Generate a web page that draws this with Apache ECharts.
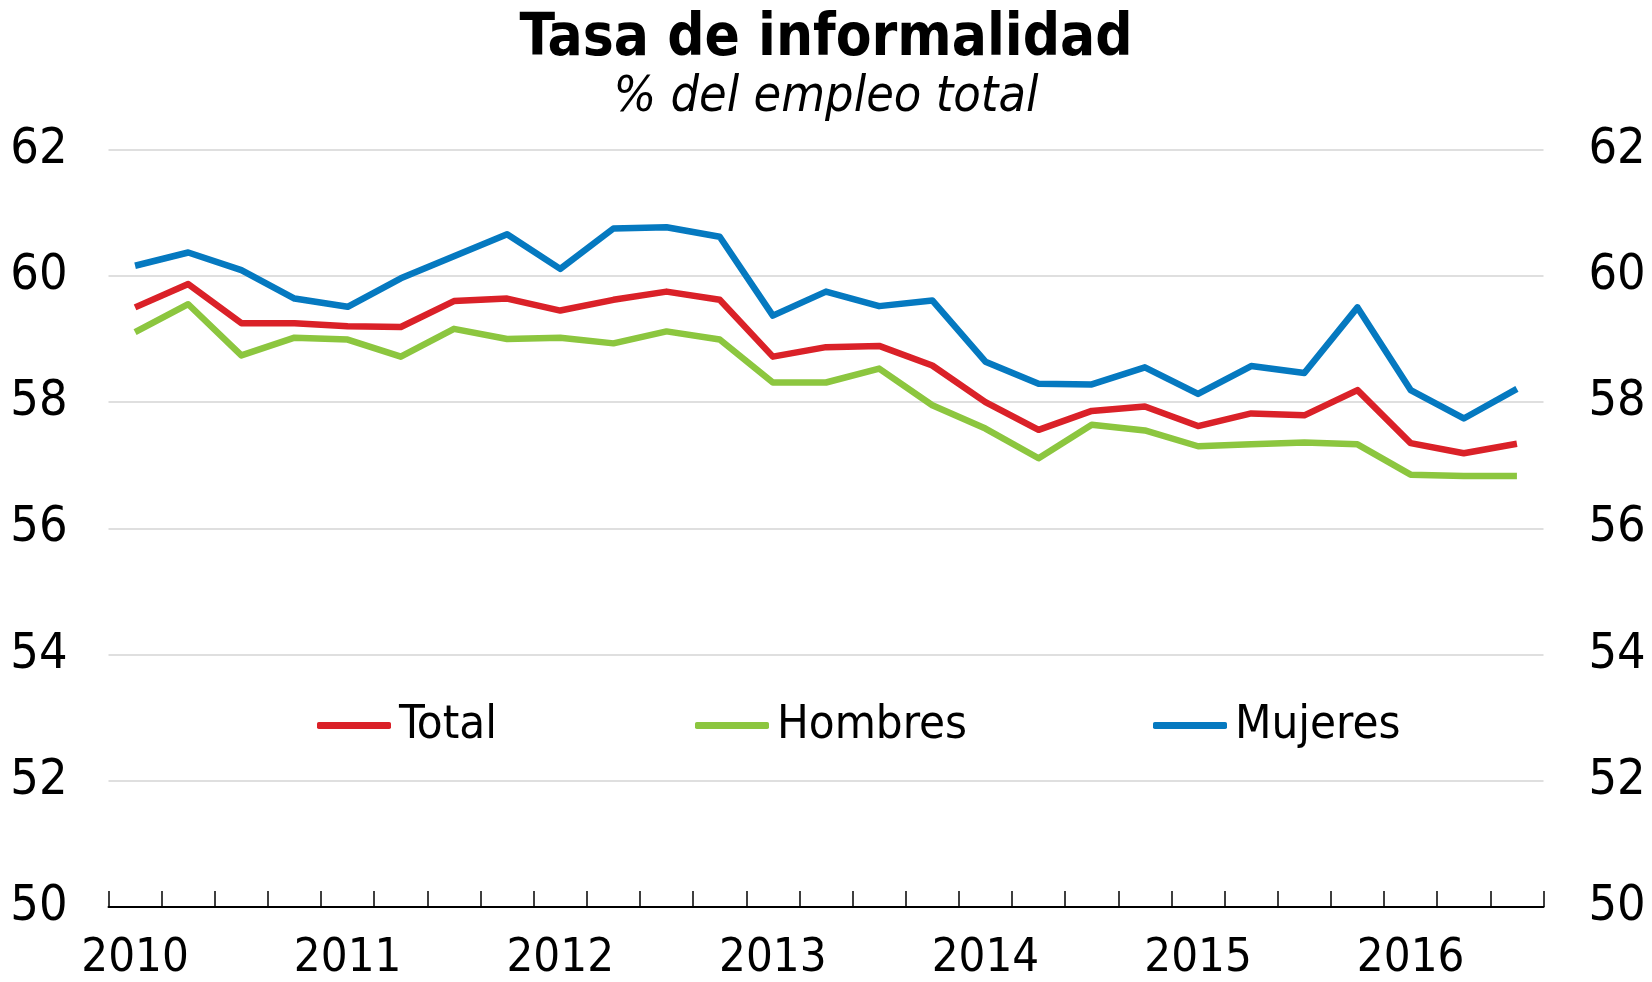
<!DOCTYPE html>
<html>
<head>
<meta charset="utf-8">
<title>Tasa de informalidad</title>
<script src="https://cdn.jsdelivr.net/npm/echarts@6/dist/echarts.min.js"></script>
<style>
  html, body { margin: 0; padding: 0; background: #fff; }
  #chart { width: 1652px; height: 982px; }
</style>
</head>
<body>
<div id="chart"></div>
<script>
  // trimestres 2010T1 .. 2016T3
  const quarters = [
    '2010T1', '2010T2', '2010T3', '2010T4',
    '2011T1', '2011T2', '2011T3', '2011T4',
    '2012T1', '2012T2', '2012T3', '2012T4',
    '2013T1', '2013T2', '2013T3', '2013T4',
    '2014T1', '2014T2', '2014T3', '2014T4',
    '2015T1', '2015T2', '2015T3', '2015T4',
    '2016T1', '2016T2', '2016T3'
  ];

  const total = [59.50, 59.87, 59.25, 59.25, 59.20, 59.19, 59.60, 59.64, 59.45, 59.62, 59.75, 59.62, 58.72, 58.87,
    58.89, 58.58, 58.00, 57.56, 57.86, 57.93, 57.62, 57.82, 57.79, 58.19, 57.35, 57.19, 57.34];
  const hombres = [59.11, 59.55, 58.74, 59.02, 58.99, 58.72, 59.16, 59.00, 59.02, 58.93, 59.12, 58.99, 58.31, 58.31,
    58.53, 57.95, 57.58, 57.11, 57.64, 57.55, 57.30, 57.33, 57.36, 57.33, 56.85, 56.83, 56.83];
  const mujeres = [60.16, 60.37, 60.09, 59.64, 59.51, 59.96, 60.31, 60.66, 60.11, 60.75, 60.77, 60.62, 59.37, 59.75,
    59.52, 59.61, 58.64, 58.29, 58.28, 58.55, 58.13, 58.57, 58.46, 59.50, 58.19, 57.74, 58.21];

  const yTicks = [50, 52, 54, 56, 58, 60, 62];

  const FONT = "'DejaVu Sans Condensed', 'Liberation Sans', sans-serif";

  const chart = echarts.init(document.getElementById('chart'), null, { renderer: 'canvas' });

  const yAxisBase = {
    type: 'value',
    min: yTicks[0],
    max: yTicks[yTicks.length - 1],
    interval: 2,
    axisLine: { show: false },
    axisTick: { show: false },
    axisLabel: { color: '#000', fontSize: 50, fontFamily: FONT }
  };

  // one legend block per item so each sits where the original has it
  const legendBase = {
    top: 697,
    icon: 'roundRect',
    itemWidth: 74,
    itemHeight: 7,
    textStyle: { color: '#000', fontSize: 47, fontFamily: FONT, padding: [0, 0, 0, 3] }
  };

  const option = {
    backgroundColor: '#fff',
    animation: false,
    color: ['#DA2128', '#8CC63F', '#0579C0'],
    title: {
      text: 'Tasa de informalidad',
      subtext: '% del empleo total',
      left: 'center',
      top: 6,
      itemGap: 4,
      textStyle: { color: '#000', fontSize: 58, fontWeight: 'bold', fontFamily: FONT },
      subtextStyle: { color: '#000', fontSize: 50, fontStyle: 'italic', fontFamily: FONT }
    },
    legend: [
      Object.assign({}, legendBase, { data: ['Total'], left: 312 }),
      Object.assign({}, legendBase, { data: ['Hombres'], left: 690 }),
      Object.assign({}, legendBase, { data: ['Mujeres'], left: 1148 })
    ],
    grid: {
      left: 108.5,
      right: 108.5,
      top: 149.6,
      bottom: 72.7,
      containLabel: false
    },
    xAxis: {
      type: 'category',
      data: quarters,
      boundaryGap: true,
      axisLine: { show: true, lineStyle: { color: '#000', width: 2 } },
      axisTick: { show: true, inside: true, length: 16, interval: 0, lineStyle: { color: '#000', width: 1.5 } },
      axisLabel: {
        interval: 3,
        color: '#000',
        fontSize: 47,
        fontFamily: FONT,
        margin: 28,
        formatter: v => v.slice(0, 4)
      },
      splitLine: { show: false }
    },
    yAxis: [
      Object.assign({}, yAxisBase, {
        position: 'left',
        axisLabel: Object.assign({}, yAxisBase.axisLabel, { margin: 41 }),
        splitLine: { show: true, lineStyle: { color: '#d4d4d4', width: 1.5 } }
      }),
      Object.assign({}, yAxisBase, {
        position: 'right',
        axisLabel: Object.assign({}, yAxisBase.axisLabel, { margin: 45 }),
        splitLine: { show: false }
      })
    ],
    series: [
      { name: 'Total', type: 'line', data: total, showSymbol: false, lineStyle: { width: 6.5, join: 'round' } },
      { name: 'Hombres', type: 'line', data: hombres, showSymbol: false, lineStyle: { width: 6.5, join: 'round' } },
      { name: 'Mujeres', type: 'line', data: mujeres, showSymbol: false, lineStyle: { width: 6.5, join: 'round' } }
    ]
  };

  chart.setOption(option);
</script>
</body>
</html>
